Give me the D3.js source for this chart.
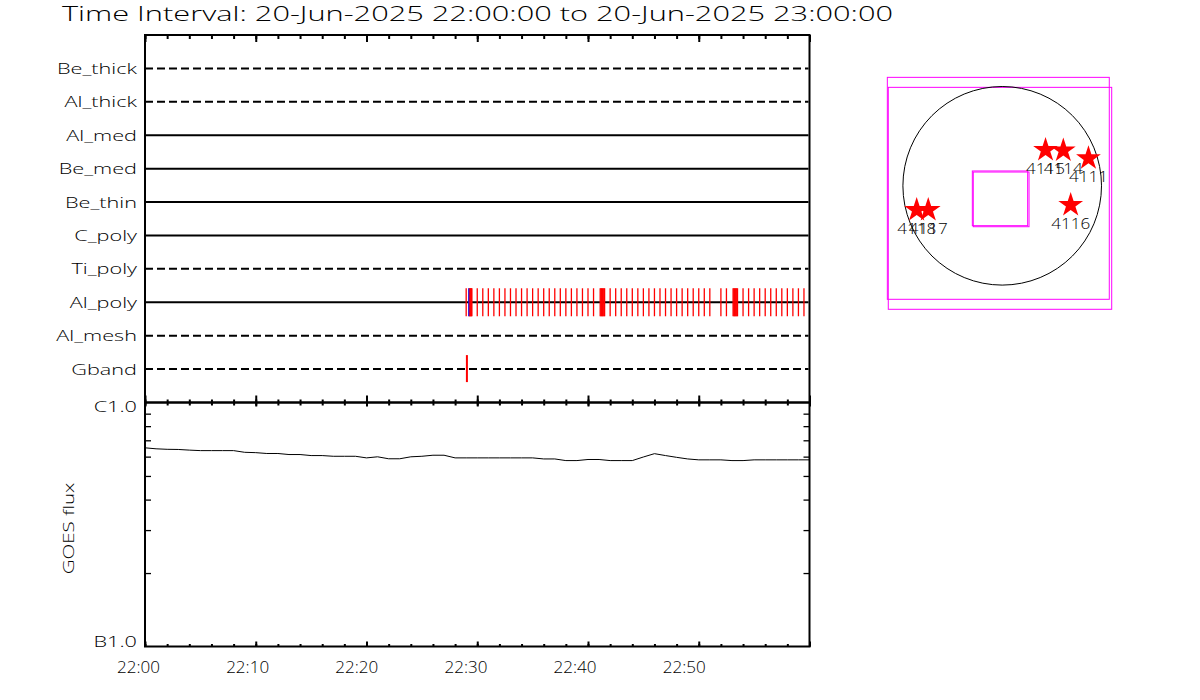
<!DOCTYPE html>
<html>
<head>
<meta charset="utf-8">
<script src="https://cdn.jsdelivr.net/npm/d3@7"></script>
<style>
  html, body { margin: 0; padding: 0; background: #fff; }
  svg text { font-family: "Open Sans", "Liberation Sans", Arial, sans-serif; font-weight: 300; fill: #000; }
</style>
</head>
<body>
<svg id="chart" width="1200" height="700"></svg>
<script>
// ---------------- DATA ----------------
const titleText = "Time Interval: 20-Jun-2025 22:00:00 to 20-Jun-2025 23:00:00";
const timeStart = "22:00:00";
const timeEnd = "23:00:00";
const channels = ["Be_thick", "Al_thick", "Al_med", "Be_med", "Be_thin", "C_poly", "Ti_poly", "Al_poly", "Al_mesh", "Gband"];
const channelSolid = [0, 0, 1, 1, 1, 1, 0, 1, 0, 0];
const xTickLabels = ["22:00", "22:10", "22:20", "22:30", "22:40", "22:50"];

// observation times per channel
const alPolyTimes = [
  "22:29:00", "22:29:16", "22:29:19", "22:29:22", "22:29:25", "22:29:28", "22:29:31",
  "22:30:00", "22:30:30", "22:31:00", "22:31:30", "22:32:00", "22:32:30", "22:33:00", "22:33:30",
  "22:34:00", "22:34:30", "22:35:00", "22:35:30", "22:36:00", "22:36:30", "22:37:00", "22:37:30",
  "22:38:00", "22:38:30", "22:39:00", "22:39:30", "22:40:00", "22:40:30",
  "22:41:06", "22:41:10", "22:41:14", "22:41:18", "22:41:22", "22:41:26", "22:41:30",
  "22:42:00", "22:42:30", "22:43:00", "22:43:30", "22:44:00", "22:44:30", "22:45:00", "22:45:30",
  "22:46:00", "22:46:30", "22:47:00", "22:47:30", "22:48:00", "22:48:30", "22:49:00", "22:49:30",
  "22:50:00", "22:50:30", "22:51:00",
  "22:52:00", "22:52:30",
  "22:53:06", "22:53:10", "22:53:14", "22:53:18", "22:53:22", "22:53:26", "22:53:30",
  "22:54:00", "22:54:30", "22:55:00", "22:55:30", "22:56:00", "22:56:30", "22:57:00", "22:57:30",
  "22:58:00", "22:58:30", "22:59:00", "22:59:30"
];
const alPolyBlueTimes = ["22:29:14"];
const gbandTimes = ["22:29:04"];

// GOES 1-minute flux (W/m^2)
const goesTimes = [
  "22:00:00","22:01:00","22:02:00","22:03:00","22:04:00","22:05:00","22:06:00","22:07:00","22:08:00","22:09:00",
  "22:10:00","22:11:00","22:12:00","22:13:00","22:14:00","22:15:00","22:16:00","22:17:00","22:18:00","22:19:00",
  "22:20:00","22:21:00","22:22:00","22:23:00","22:24:00","22:25:00","22:26:00","22:27:00","22:28:00","22:29:00",
  "22:30:00","22:31:00","22:32:00","22:33:00","22:34:00","22:35:00","22:36:00","22:37:00","22:38:00","22:39:00",
  "22:40:00","22:41:00","22:42:00","22:43:00","22:44:00","22:45:00","22:46:00","22:47:00","22:48:00","22:49:00",
  "22:50:00","22:51:00","22:52:00","22:53:00","22:54:00","22:55:00","22:56:00","22:57:00","22:58:00","22:59:00",
  "23:00:00"
];
const goesFlux = [
  6.52e-7, 6.46e-7, 6.43e-7, 6.42e-7, 6.38e-7, 6.35e-7, 6.35e-7, 6.35e-7, 6.35e-7, 6.25e-7,
  6.23e-7, 6.18e-7, 6.18e-7, 6.12e-7, 6.12e-7, 6.06e-7, 6.06e-7, 6.02e-7, 6.02e-7, 6.02e-7,
  5.93e-7, 5.99e-7, 5.88e-7, 5.88e-7, 5.99e-7, 6.02e-7, 6.08e-7, 6.08e-7, 5.93e-7, 5.93e-7,
  5.93e-7, 5.93e-7, 5.93e-7, 5.93e-7, 5.93e-7, 5.93e-7, 5.87e-7, 5.87e-7, 5.78e-7, 5.78e-7,
  5.84e-7, 5.84e-7, 5.78e-7, 5.78e-7, 5.78e-7, 5.98e-7, 6.17e-7, 6.06e-7, 5.96e-7, 5.87e-7,
  5.82e-7, 5.82e-7, 5.82e-7, 5.78e-7, 5.78e-7, 5.82e-7, 5.82e-7, 5.82e-7, 5.82e-7, 5.82e-7,
  5.82e-7
];
const goesLabels = ["B1.0", "C1.0"];
const goesLabelValues = [1e-7, 1e-6];
const goesMinorValues = [2e-7, 3e-7, 4e-7, 5e-7, 6e-7, 7e-7, 8e-7, 9e-7];
const goesAxisTitle = "GOES flux";

// Solar map (arcsec)
const solarRadius = 944;
const arNumbers = ["4115", "4114", "4111", "4116", "4118", "4117"];
const arX = [412, 581, 820, 651, -813, -703];
const arY = [340, 336, 261, -183, -230, -230];
const fovX0 = [-1092, -1083, -284, -275];
const fovX1 = [1018, 1041, 242, 255];
const fovY0 = [-1079, -1174, -379, -389];
const fovY1 = [1031, 936, 141, 131];

// ---------------- DRAW ----------------
const svg = d3.select("#chart");
svg.append("rect").attr("width", 1200).attr("height", 700).attr("fill", "#fff");

const parse = d3.utcParse("%H:%M:%S");
const L = 145, R = 809.5, T1 = 35, B1 = 402.5, B2 = 646.5;
const x = d3.scaleUtc().domain([parse(timeStart), parse(timeEnd)]).range([L, R]);
const yCh = d3.scalePoint().domain(channels).range([T1, B1]).padding(1);
const yG = d3.scaleLog().domain([1e-7, 1e-6]).range([B2, B1]);

function measure(str, size) {
  const t = svg.append("text").attr("font-size", size).text(str);
  const w = t.node().getComputedTextLength();
  t.remove();
  return w;
}
function stretch(sel, f) {
  sel.each(function () {
    const w = this.getComputedTextLength();
    this.setAttribute("textLength", w * f);
    this.setAttribute("lengthAdjust", "spacingAndGlyphs");
  });
}
const FS = 15, FST = 16.5;
const SX = 80 / measure("Be_thick", FS);      // label width calibration
const SXT = 43 / measure("22:00", FST);       // time label calibration
const SXA = 39 / measure("4116", 14);         // AR label calibration

// title
const title = svg.append("text").attr("x", 62).attr("y", 21).attr("font-size", 19.5).text(titleText);
title.attr("textLength", 831).attr("lengthAdjust", "spacingAndGlyphs");

// channel lines
svg.append("g").selectAll("line").data(channels).join("line")
  .attr("x1", L).attr("x2", R - 1)
  .attr("y1", d => yCh(d)).attr("y2", d => yCh(d))
  .attr("stroke", "#000").attr("stroke-width", 2)
  .attr("stroke-dasharray", (d, i) => channelSolid[i] ? null : "8,4");

const chLab = svg.append("g").selectAll("text").data(channels).join("text")
  .attr("x", 137).attr("y", d => yCh(d) + 5.5)
  .attr("text-anchor", "end").attr("font-size", FS).text(d => d);
stretch(chLab, SX);

// observation markers
svg.append("g").selectAll("line").data(alPolyTimes).join("line")
  .attr("x1", d => x(parse(d))).attr("x2", d => x(parse(d)))
  .attr("y1", yCh("Al_poly") - 14).attr("y2", yCh("Al_poly") + 14)
  .attr("stroke", "#ff0000").attr("stroke-width", 1.3);
svg.append("g").selectAll("line").data(alPolyBlueTimes).join("line")
  .attr("x1", d => x(parse(d))).attr("x2", d => x(parse(d)))
  .attr("y1", yCh("Al_poly") - 14).attr("y2", yCh("Al_poly") + 14)
  .attr("stroke", "#0000ff").attr("stroke-width", 1);
svg.append("g").selectAll("line").data(gbandTimes).join("line")
  .attr("x1", d => x(parse(d))).attr("x2", d => x(parse(d)))
  .attr("y1", yCh("Gband") - 14).attr("y2", yCh("Gband") + 13)
  .attr("stroke", "#ff0000").attr("stroke-width", 2);

// GOES line
const goes = goesTimes.map((t, i) => ({ t: parse(t), v: goesFlux[i] }));
svg.append("path").datum(goes)
  .attr("d", d3.line().x(d => x(d.t)).y(d => yG(d.v)))
  .attr("fill", "none").attr("stroke", "#000").attr("stroke-width", 1);

// time axes ticks
const minor = d3.utcMinute.every(2), major = d3.utcMinute.every(10);
function timeTicks(y, orient, minorSize, majorSize) {
  const mk = orient === "down" ? d3.axisBottom : d3.axisTop;
  const g1 = svg.append("g").attr("transform", `translate(0,${y})`)
    .call(mk(x).ticks(minor).tickSize(minorSize).tickFormat(""));
  const g2 = svg.append("g").attr("transform", `translate(0,${y})`)
    .call(mk(x).ticks(major).tickSize(majorSize).tickFormat(""));
  [g1, g2].forEach(g => {
    g.select(".domain").remove();
    g.selectAll(".tick line").attr("stroke", "#000").attr("stroke-width", 2);
  });
}
timeTicks(T1, "down", 4, 7);
timeTicks(B1, "up", 3, 7);
timeTicks(B1, "down", 3, 4);
timeTicks(B2, "up", 2.5, 5);

// time labels (IDL places them slightly left of the ticks)
const xl = svg.append("g").selectAll("text").data(xTickLabels).join("text")
  .attr("x", d => { const p = x(parse(d + ":00")); return p - 6.5 - 0.0145 * (p - L); })
  .attr("y", 673)
  .attr("text-anchor", "middle").attr("font-size", FST).text(d => d);
stretch(xl, SXT);

// GOES log minor ticks
const gl = svg.append("g").attr("transform", `translate(${L},0)`)
  .call(d3.axisRight(yG).tickValues(goesMinorValues).tickSize(6).tickFormat(""));
const gr = svg.append("g").attr("transform", `translate(${R},0)`)
  .call(d3.axisLeft(yG).tickValues(goesMinorValues).tickSize(6).tickFormat(""));
[gl, gr].forEach(g => { g.select(".domain").remove(); g.selectAll(".tick line").attr("stroke", "#000").attr("stroke-width", 1.3); });

const gLab = svg.append("g").selectAll("text").data(goesLabels).join("text")
  .attr("x", 137).attr("y", (d, i) => yG(goesLabelValues[i]) + (i === 1 ? 9 : 0))
  .attr("text-anchor", "end").attr("font-size", FS).text(d => d);
stretch(gLab, SX);

const gt = svg.append("text").attr("transform", `translate(74,${(B1 + B2) / 2 + 4}) rotate(-90)`)
  .attr("text-anchor", "middle").attr("font-size", FS).text(goesAxisTitle);
stretch(gt, SX * 0.95);

// frames
const frame = svg.append("g").attr("fill", "none").attr("stroke", "#000").attr("stroke-width", 2);
frame.append("rect").attr("x", L).attr("y", T1).attr("width", R - L).attr("height", B1 - T1);
frame.append("rect").attr("x", L).attr("y", B1).attr("width", R - L).attr("height", B2 - B1);

// ---------------- SOLAR MAP ----------------
const cx = 1002.2, cy = 185.8, pr = 99.3;
const mx = d3.scaleLinear().domain([-solarRadius, solarRadius]).range([cx - pr, cx + pr]);
const my = d3.scaleLinear().domain([-solarRadius, solarRadius]).range([cy + pr, cy - pr]);
const map = svg.append("g");
map.selectAll("rect.fov").data(fovX0).join("rect").attr("class", "fov")
  .attr("x", (d, i) => mx(fovX0[i])).attr("y", (d, i) => my(fovY1[i]))
  .attr("width", (d, i) => mx(fovX1[i]) - mx(fovX0[i]))
  .attr("height", (d, i) => my(fovY0[i]) - my(fovY1[i]))
  .attr("fill", "none").attr("stroke", "#ff00ff").attr("stroke-width", 1);
map.append("circle").attr("cx", mx(0)).attr("cy", my(0)).attr("r", mx(solarRadius) - mx(0))
  .attr("fill", "none").attr("stroke", "#000").attr("stroke-width", 1);
map.selectAll("path.star").data(arNumbers).join("path").attr("class", "star")
  .attr("transform", (d, i) => `translate(${mx(arX[i])},${my(arY[i])})`)
  .attr("d", d3.symbol(d3.symbolStar, 190)())
  .attr("fill", "#ff0000");
const arLab = map.selectAll("text.ar").data(arNumbers).join("text").attr("class", "ar")
  .attr("x", (d, i) => mx(arX[i])).attr("y", (d, i) => my(arY[i]) + 24)
  .attr("text-anchor", "middle").attr("font-size", 14).text(d => d);
stretch(arLab, SXA);
</script>
</body>
</html>
